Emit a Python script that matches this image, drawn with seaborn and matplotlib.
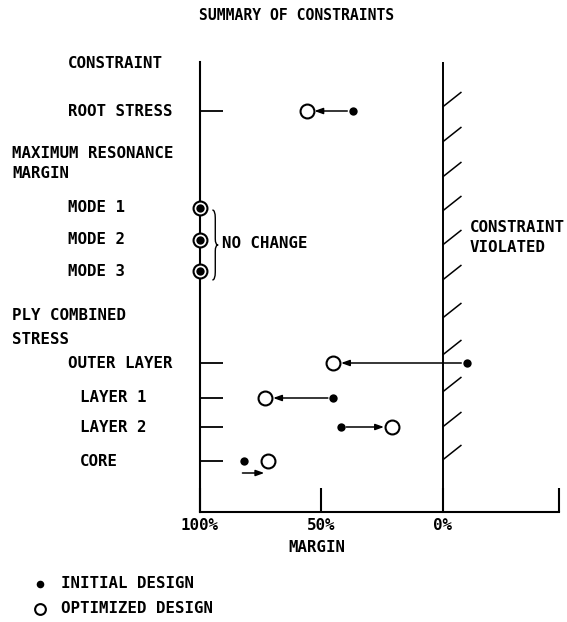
import numpy as np
import pandas as pd
import seaborn as sns
import matplotlib.pyplot as plt
import matplotlib.transforms as mtransforms
from matplotlib.path import Path
from matplotlib.patches import PathPatch

# データ (余裕度 %)
constraints = ['ROOT STRESS', 'MODE 1', 'MODE 2', 'MODE 3',
               'OUTER LAYER', 'LAYER 1', 'LAYER 2', 'CORE']
initial_margin = [37, 100, 100, 100, -10, 45, 42, 82]
optimized_margin = [56, 100, 100, 100, 45, 73, 21, 72]
tick_values = [100, 50, 0]
tick_labels = ['100%', '50%', '0%']

# レイアウト (行の縦位置, 図のピクセル単位)
row_y = [111, 208, 240, 271, 363, 398, 427, 461]
row_label_x = [68, 68, 68, 68, 68, 80, 80, 80]
tick_rows = ['ROOT STRESS', 'OUTER LAYER', 'LAYER 1', 'LAYER 2', 'CORE']

df = pd.DataFrame({'constraint': constraints, 'initial': initial_margin,
                   'optimized': optimized_margin, 'y': row_y})

sns.set_style('white')
plt.rcParams['font.family'] = ['DejaVu Sans Mono', 'DejaVu Sans']
plt.rcParams['font.weight'] = 'bold'
plt.rcParams['text.color'] = 'black'
plt.rcParams['xtick.color'] = 'black'
plt.rcParams['ytick.color'] = 'black'
FS = 11.3

W, H = 567, 622
fig = plt.figure(figsize=(W / 100, H / 100), dpi=100)
ax = fig.add_axes([200 / W, 1 - 512 / H, 359 / W, 450 / H])
ax.set_xlim(100, -48)
ax.set_ylim(512, 62)

def fx(px):
    return px / W

def fy(py):
    return 1 - py / H

# 矢印 (初期 -> 最適)
for _, r in df.iterrows():
    if r['initial'] == r['optimized']:
        continue
    if r['constraint'] == 'CORE':
        ax.annotate('', xy=(r['optimized'] + 1.5, r['y'] + 12), xytext=(r['initial'] + 0.5, r['y'] + 12),
                    arrowprops=dict(arrowstyle='-|>,head_length=0.5,head_width=0.18',
                                    color='black', lw=1.1, shrinkA=0, shrinkB=0))
    else:
        ax.annotate('', xy=(r['optimized'], r['y']), xytext=(r['initial'], r['y']),
                    arrowprops=dict(arrowstyle='-|>,head_length=0.5,head_width=0.18',
                                    color='black', lw=1.1, shrinkA=4, shrinkB=5.5))

# 点
sns.scatterplot(data=df, x='optimized', y='y', ax=ax, s=100, marker='o',
                facecolor='white', edgecolor='black', linewidth=1.5,
                label='OPTIMIZED DESIGN', zorder=3, clip_on=False)
sns.scatterplot(data=df, x='initial', y='y', ax=ax, s=36, marker='o',
                color='black', edgecolor='black', linewidth=0,
                label='INITIAL DESIGN', zorder=4, clip_on=False)

# 制約境界線 (0%) とハッチ
ax.axvline(0, color='black', lw=1.4, zorder=2)
for hy in [107, 142, 177, 211, 245, 280, 318, 355, 392, 427, 460]:
    ax.plot([0, -7.8], [hy, hy - 15], color='black', lw=1.1, solid_capstyle='butt')

# 軸
for s in ['top', 'right']:
    ax.spines[s].set_visible(False)
for s in ['left', 'bottom']:
    ax.spines[s].set_linewidth(1.5)
    ax.spines[s].set_color('black')
ax.set_xticks(tick_values + [-48])
ax.set_xticklabels(tick_labels + [''], fontsize=FS, fontweight='bold')
ax.tick_params(axis='x', direction='in', length=17, width=1.5, pad=4, bottom=True)
ax.set_yticks([df.loc[df.constraint == c, 'y'].iloc[0] for c in tick_rows])
ax.set_yticklabels([])
ax.tick_params(axis='y', direction='in', length=16.5, width=1.3, left=True)
ax.set_xlabel('')
ax.set_ylabel('')

# 波かっこ (モード行)
mode_y = df[df.constraint.str.startswith('MODE')]['y']
top, bot = mode_y.min() + 2, mode_y.max() + 9
mid = (top + bot) / 2
x0, xm, xt = 94.9, 93.7, 92.5
verts = [(x0, top), (xm, top), (xm, top + 8), (xm, mid - 6), (xm, mid), (xt, mid),
         (xm, mid), (xm, mid + 6), (xm, bot - 8), (xm, bot), (x0, bot)]
codes = [Path.MOVETO, Path.CURVE3, Path.CURVE3, Path.LINETO, Path.CURVE3, Path.CURVE3,
         Path.CURVE3, Path.CURVE3, Path.LINETO, Path.CURVE3, Path.CURVE3]
ax.add_patch(PathPatch(Path(verts, codes), fill=False, lw=1.0, color='black', clip_on=False))
ax.text(91, mid - 1, 'NO CHANGE', fontsize=FS, fontweight='bold', va='center', ha='left')

# ラベル
trans = mtransforms.blended_transform_factory(fig.transFigure, ax.transData)
for lab, lx, yy in zip(constraints, row_label_x, row_y):
    ax.text(fx(lx), yy, lab, transform=trans, fontsize=FS, fontweight='bold', va='center', ha='left')

fig.text(fx(68), fy(63), 'CONSTRAINT', fontsize=FS, fontweight='bold', va='center')
fig.text(fx(12), fy(153), 'MAXIMUM RESONANCE', fontsize=FS, fontweight='bold', va='center')
fig.text(fx(12), fy(174), 'MARGIN', fontsize=FS, fontweight='bold', va='center')
fig.text(fx(12), fy(315), 'PLY COMBINED', fontsize=FS, fontweight='bold', va='center')
fig.text(fx(12), fy(339), 'STRESS', fontsize=FS, fontweight='bold', va='center')
fig.text(fx(470), fy(228), 'CONSTRAINT', fontsize=FS, fontweight='bold', va='center')
fig.text(fx(470), fy(248), 'VIOLATED', fontsize=FS, fontweight='bold', va='center')
fig.text(fx(317), fy(548), 'MARGIN', fontsize=FS, fontweight='bold', va='center', ha='center')
fig.text(fx(297), fy(15), 'SUMMARY OF CONSTRAINTS', fontsize=10.6, fontweight='bold',
         va='center', ha='center')

# 凡例
h, l = ax.get_legend_handles_labels()
order = [l.index('INITIAL DESIGN'), l.index('OPTIMIZED DESIGN')]
leg = ax.legend([h[i] for i in order], [l[i] for i in order], loc='upper left',
                bbox_to_anchor=(fx(24), fy(576)), bbox_transform=fig.transFigure,
                frameon=False, fontsize=FS, handletextpad=0.38,
                labelspacing=0.65, borderpad=0, borderaxespad=0)
leg.legend_handles[0].set_sizes([30])
leg.legend_handles[1].set_sizes([60])
for t in leg.get_texts():
    t.set_fontweight('bold')

fig.savefig('out.png', dpi=100)
